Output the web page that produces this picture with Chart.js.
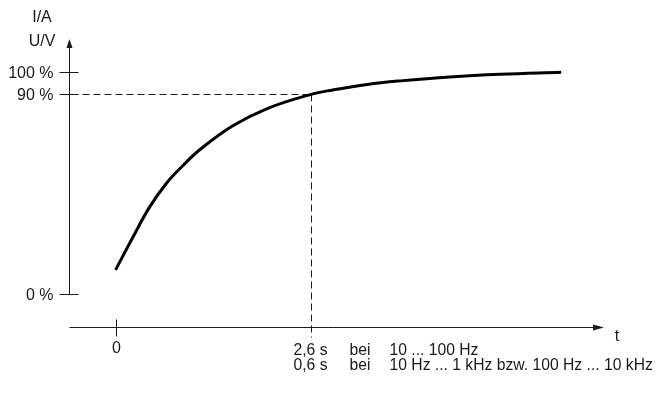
<!DOCTYPE html>
<html>
<head>
<meta charset="utf-8">
<script src="https://cdn.jsdelivr.net/npm/chart.js@4/dist/chart.umd.min.js"></script>
<style>
  html, body { margin: 0; padding: 0; background: #fff; }
  #wrap { width: 659px; height: 398px; position: relative; }
</style>
</head>
<body>
<div id="wrap"><canvas id="c"></canvas></div>
<script>
// Step response: time in s, signal in % of final value
const timeS = [0, 0.23, 0.45, 0.68, 0.9, 1.12, 1.56, 2.01, 2.6, 2.89, 3.35, 3.79, 4.45, 5.12, 5.93];
const levelPct = [10.8, 25.5, 39.0, 50.0, 58.0, 65.0, 75.8, 83.5, 90.0, 92.0, 94.5, 96.1, 97.9, 99.1, 100.0];

const yTicks = [100, 90, 0];
const yTickLabels = ['100 %', '90 %', '0 %'];
const xTicks = [0];
const xTickLabels = ['0'];

const markT = 2.6;
const markPct = 90;
const markNotes = [
  ['2,6 s', 'bei', '10 ... 100 Hz'],
  ['0,6 s', 'bei', '10 Hz ... 1 kHz bzw. 100 Hz ... 10 kHz'],
];
const yTitle = ['I/A', 'U/V'];
const xTitle = 't';

const FONT = '"Liberation Sans", Arial, Helvetica, sans-serif';
const INK = '#1a1a1a';

// axes, ticks, arrows, dashed guides and labels drawn on the library's scales
const axesPlugin = {
  id: 'sketchAxes',
  beforeDatasetsDraw(chart) {
    const { ctx, chartArea: a, scales: { x, y } } = chart;
    const x0 = Math.round(a.left) + 0.5;
    const yb = Math.round(a.bottom) + 0.5;
    ctx.save();
    ctx.strokeStyle = INK;
    ctx.fillStyle = INK;
    ctx.lineWidth = 1;

    // dashed guides at 90 %
    const mx = Math.round(x.getPixelForValue(markT)) + 0.5;
    const my = Math.round(y.getPixelForValue(markPct)) + 0.5;
    ctx.setLineDash([7, 4]);
    ctx.beginPath();
    ctx.moveTo(x0 - 9, my); ctx.lineTo(mx, my);
    ctx.moveTo(mx, my); ctx.lineTo(mx, yb + 10);
    ctx.stroke();
    ctx.setLineDash([]);

    // y axis
    const yTop = a.top;
    const yZero = Math.round(y.getPixelForValue(0)) + 0.5;
    ctx.beginPath();
    ctx.moveTo(x0, yTop + 6); ctx.lineTo(x0, yZero);
    ctx.stroke();
    ctx.beginPath();
    ctx.moveTo(x0, yTop); ctx.lineTo(x0 - 3, yTop + 9); ctx.lineTo(x0 + 3, yTop + 9);
    ctx.closePath(); ctx.fill();

    // x axis
    const xEnd = a.right;
    ctx.beginPath();
    ctx.moveTo(x0, yb); ctx.lineTo(xEnd - 6, yb);
    ctx.stroke();
    ctx.beginPath();
    ctx.moveTo(xEnd, yb); ctx.lineTo(xEnd - 11, yb - 3); ctx.lineTo(xEnd - 11, yb + 3);
    ctx.closePath(); ctx.fill();

    // y ticks
    ctx.font = '16px ' + FONT;
    ctx.textAlign = 'right';
    ctx.textBaseline = 'middle';
    yTicks.forEach((v, i) => {
      const py = Math.round(y.getPixelForValue(v)) + 0.5;
      ctx.beginPath(); ctx.moveTo(x0 - 10, py); ctx.lineTo(x0 + 9, py); ctx.stroke();
      ctx.fillText(yTickLabels[i], x0 - 16, py + 1);
    });

    // x ticks
    ctx.textAlign = 'center';
    ctx.textBaseline = 'middle';
    xTicks.forEach((v, i) => {
      const px = Math.round(x.getPixelForValue(v)) + 0.5;
      ctx.beginPath(); ctx.moveTo(px, yb - 8); ctx.lineTo(px, yb + 9); ctx.stroke();
      ctx.fillText(xTickLabels[i], px, yb + 21);
    });

    // notes under the 2.6 s mark
    ctx.textAlign = 'left';
    ctx.font = '15.7px ' + FONT;
    const cols = [mx - 18, mx + 38, mx + 78];
    markNotes.forEach((row, r) => {
      row.forEach((txt, c) => ctx.fillText(txt, cols[c], yb + 23 + r * 15));
    });

    // axis titles
    ctx.font = '16px ' + FONT;
    ctx.textAlign = 'center';
    ctx.fillText(yTitle[0], 42, 18);
    ctx.fillText(yTitle[1], 42, 42);
    ctx.fillText(xTitle, a.right + 13, yb + 9);
    ctx.restore();
  },
};

new Chart(document.getElementById('c'), {
  type: 'line',
  data: {
    datasets: [{
      data: timeS.map((t, i) => ({ x: t, y: levelPct[i] })),
      borderColor: '#000',
      borderWidth: 3,
      pointRadius: 0,
      tension: 0.4,
      borderCapStyle: 'butt',
      fill: false,
    }],
  },
  options: {
    responsive: true,
    maintainAspectRatio: false,
    animation: false,
    layout: { padding: { left: 69, right: 55, top: 39, bottom: 71 } },
    plugins: { legend: { display: false }, tooltip: { enabled: false } },
    scales: {
      x: { type: 'linear', display: false, min: -0.62, max: 6.5 },
      y: { type: 'linear', display: false, min: -15, max: 115 },
    },
  },
  plugins: [axesPlugin],
});
</script>
</body>
</html>
